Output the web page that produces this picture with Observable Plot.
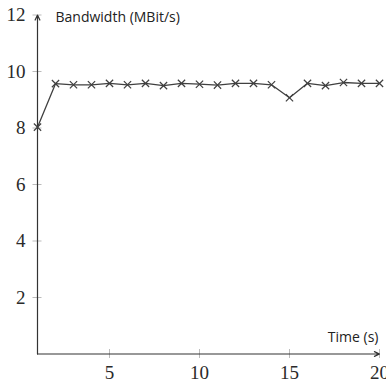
<!DOCTYPE html>
<html>
<head>
<meta charset="utf-8">
<script src="https://cdn.jsdelivr.net/npm/d3@7"></script>
<script src="https://cdn.jsdelivr.net/npm/@observablehq/plot@0.6"></script>
<style>
  html, body { margin: 0; padding: 0; background: white; }
</style>
</head>
<body>
<div id="chart"></div>
<script>
const time = [1, 2, 3, 4, 5, 6, 7, 8, 9, 10, 11, 12, 13, 14, 15, 16, 17, 18, 19, 20];
const bandwidth = [8.03, 9.57, 9.53, 9.53, 9.58, 9.53, 9.58, 9.50, 9.58, 9.55, 9.52, 9.58, 9.58, 9.53, 9.07, 9.58, 9.50, 9.61, 9.58, 9.58];
const xTicks = [5, 10, 15, 20];
const yTicks = [2, 4, 6, 8, 10, 12];
const xDomain = [1, 20];
const yDomain = [0, 12];
const xLabel = "Time (s)";
const yLabel = "Bandwidth (MBit/s)";

const data = time.map((t, i) => ({t, b: bandwidth[i]}));
const serif = "'Liberation Serif', 'DejaVu Serif', serif";
const sans = "'Open Sans', 'Noto Sans', sans-serif";

const chart = Plot.plot({
  width: 386,
  height: 386,
  marginLeft: 37,
  marginRight: 7,
  marginTop: 14.5,
  marginBottom: 32.5,
  x: {domain: xDomain},
  y: {domain: yDomain},
  style: {background: "white", overflow: "visible"},
  marks: [
    Plot.axisX(xTicks, {tickSize: 9, dy: -4.5, tickFormat: () => "", stroke: "#aaa", strokeWidth: 0.8}),
    Plot.axisY(yTicks, {tickSize: 9, dx: 4.5, tickFormat: () => "", stroke: "#aaa", strokeWidth: 0.8}),
    Plot.axisX(xTicks, {tickSize: 0, tickPadding: 11, fontSize: 19, fontFamily: serif, fill: "#2a2a2a", label: null}),
    Plot.axisY(yTicks, {tickSize: 0, tickPadding: 12, fontSize: 19, fontFamily: serif, fill: "#2a2a2a", label: null}),
    Plot.arrow([{x1: xDomain[0], x2: xDomain[1], y1: yDomain[0], y2: yDomain[0]}],
      {x1: "x1", x2: "x2", y1: "y1", y2: "y2", stroke: "#333", strokeWidth: 1.2, headLength: 7, headAngle: 50}),
    Plot.arrow([{x1: xDomain[0], x2: xDomain[0], y1: yDomain[0], y2: yDomain[1]}],
      {x1: "x1", x2: "x2", y1: "y1", y2: "y2", stroke: "#333", strokeWidth: 1.2, headLength: 7, headAngle: 50}),
    Plot.line(data, {x: "t", y: "b", stroke: "#404040", strokeWidth: 1.3}),
    Plot.dot(data, {x: "t", y: "b", symbol: "times", r: 3.4, stroke: "#404040", strokeWidth: 1.2}),
    Plot.text([yLabel], {frameAnchor: "top-left", textAnchor: "start", lineAnchor: "middle", dx: 18, dy: 2.5, fontSize: 14, fontFamily: sans, fill: "#222"}),
    Plot.text([xLabel], {frameAnchor: "bottom-right", textAnchor: "end", lineAnchor: "middle", dx: -1, dy: -16.5, fontSize: 14, fontFamily: sans, fill: "#222"})
  ]
});
document.getElementById("chart").appendChild(chart);
</script>
</body>
</html>
